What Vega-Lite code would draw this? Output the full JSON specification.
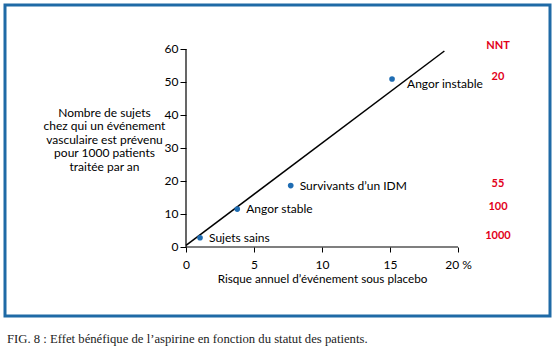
{
  "$schema": "https://vega.github.io/schema/vega-lite/v6.json",
  "width": 545,
  "height": 311,
  "autosize": {"type": "none"},
  "padding": {"left": 5, "top": 5, "right": 4, "bottom": 38},
  "background": "white",
  "title": {
    "text": "FIG. 8 : Effet bénéfique de l’aspirine en fonction du statut des patients.",
    "orient": "bottom",
    "anchor": "start",
    "font": "Liberation Serif",
    "fontSize": 12.7,
    "fontWeight": "normal",
    "color": "#222222",
    "offset": 17,
    "dx": 2
  },
  "config": {
    "view": {"stroke": "#1f6aa6", "strokeWidth": 3},
    "font": "Lato"
  },
  "datasets": {
    "points": [
      {"x": 1.03, "y": 2.8, "groupe": "Sujets sains", "nnt": "1000"},
      {"x": 3.77, "y": 11.5, "groupe": "Angor stable", "nnt": "100"},
      {"x": 7.7, "y": 18.6, "groupe": "Survivants d’un IDM", "nnt": "55"},
      {"x": 15.15, "y": 50.9, "groupe": "Angor instable", "nnt": "20"}
    ],
    "line": [
      {"x": 0, "y": 0.5},
      {"x": 19, "y": 59.4}
    ],
    "axes": [
      {"x": 0, "y": 0, "x2": 20, "y2": 0},
      {"x": 0, "y": 0, "x2": 0, "y2": 60}
    ],
    "header": [
      {"x": 22.94, "y": 61, "label": "NNT"}
    ]
  },
  "encoding": {
    "x": {
      "field": "x",
      "type": "quantitative",
      "scale": {"domain": [-13.309, 26.765], "nice": false, "zero": false},
      "axis": {
        "title": "Risque annuel d’événement sous placebo",
        "values": [0, 5, 10, 15, 20],
        "labelExpr": "datum.value == 20 ? '20 %' : datum.label",
        "offset": -69,
        "domain": false,
        "grid": false,
        "ticks": true,
        "tickSize": 5,
        "tickColor": "black",
        "tickWidth": 1,
        "labelPadding": 7,
        "labelFont": "Lato",
        "labelFontSize": 12,
        "labelColor": "black",
        "labelBaseline": "top",
        "titleFont": "Lato",
        "titleFontSize": 11.7,
        "titleFontWeight": "normal",
        "titleColor": "black",
        "titleX": 317,
        "titleY": 31,
        "titleBaseline": "middle",
        "titleAlign": "center"
      }
    },
    "y": {
      "field": "y",
      "type": "quantitative",
      "scale": {"domain": [-20.909, 73.333], "nice": false, "zero": false},
      "axis": {
        "title": ["Nombre de sujets", "chez qui un événement", "vasculaire est  prévenu", "pour 1000 patients", "traitée par an"],
        "values": [0, 10, 20, 30, 40, 50, 60],
        "offset": -181,
        "domain": false,
        "grid": false,
        "tickSize": 6,
        "tickColor": "black",
        "tickWidth": 1,
        "labelPadding": 2,
        "labelFont": "Lato",
        "labelFontSize": 12,
        "labelColor": "black",
        "titleAngle": 0,
        "titleFont": "Lato",
        "titleFontSize": 12,
        "titleFontWeight": "normal",
        "titleColor": "black",
        "titleLineHeight": 13.6,
        "titleAlign": "center",
        "titleBaseline": "middle",
        "titleX": -82,
        "titleY": 107
      }
    }
  },
  "layer": [
    {
      "data": {"name": "axes"},
      "mark": {"type": "rule", "color": "black", "strokeWidth": 1.2},
      "encoding": {
        "x2": {"field": "x2"},
        "y2": {"field": "y2"}
      }
    },
    {
      "data": {"name": "line"},
      "mark": {"type": "line", "color": "black", "strokeWidth": 1.5},
      "encoding": {}
    },
    {
      "data": {"name": "points"},
      "mark": {"type": "circle", "size": 32, "color": "#1f6db3", "opacity": 1},
      "encoding": {}
    },
    {
      "data": {"name": "points"},
      "transform": [{"filter": "datum.groupe != 'Angor instable'"}],
      "mark": {"type": "text", "align": "left", "baseline": "middle", "dx": 9, "font": "Lato", "fontSize": 12, "color": "black"},
      "encoding": {"text": {"field": "groupe"}}
    },
    {
      "data": {"name": "points"},
      "transform": [{"filter": "datum.groupe == 'Angor instable'"}],
      "mark": {"type": "text", "align": "left", "baseline": "middle", "dx": 15, "dy": 5, "font": "Lato", "fontSize": 12, "color": "black"},
      "encoding": {"text": {"field": "groupe"}}
    },
    {
      "data": {"name": "points"},
      "mark": {"type": "text", "align": "center", "baseline": "middle", "dy": -2, "font": "Lato", "fontSize": 11, "fontWeight": "bold", "color": "#e2001a"},
      "encoding": {
        "x": {"datum": 22.94, "type": "quantitative"},
        "text": {"field": "nnt"}
      }
    },
    {
      "data": {"name": "header"},
      "mark": {"type": "text", "align": "center", "baseline": "middle", "font": "Lato", "fontSize": 11, "fontWeight": "bold", "color": "#e2001a"},
      "encoding": {
        "text": {"field": "label"}
      }
    }
  ]
}
